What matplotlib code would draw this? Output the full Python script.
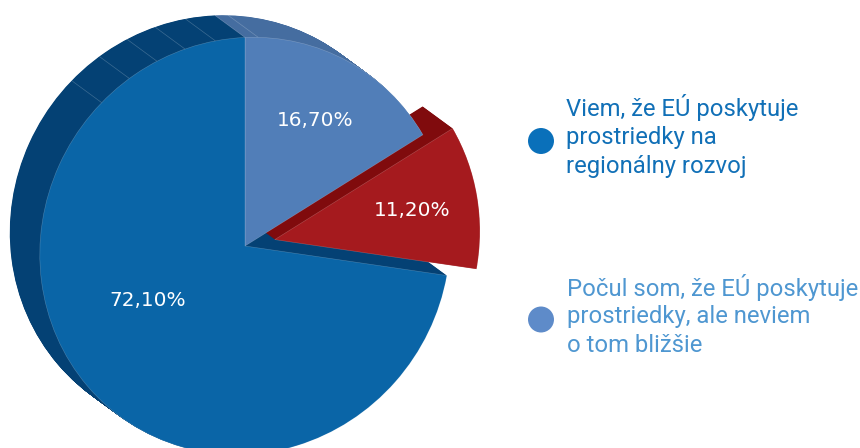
import matplotlib
matplotlib.use("Agg")
import matplotlib.pyplot as plt
import numpy as np
from matplotlib.transforms import Affine2D

# Data
categories = ["Viem, že EÚ poskytuje prostriedky na regionálny rozvoj (svetlá)", "Iné", "Hlavná časť"]
values = [16.70, 11.20, 72.10]
explode_frac = [0, 0.147, 0]
front_colors = ["#517eb8", "#a51a1e", "#0a65a7"]
side_colors = ["#456da0", "#800b0d", "#044174"]
label_pos = [(315.5, 120), (412, 210), (147.5, 300)]
side_seam_angles = [-44.3, -34.3, -25.4, -17.0, -8.3, 0.0, 3.7]
legend_lines = [
    ["Viem, že EÚ poskytuje", "prostriedky na", "regionálny rozvoj"],
    ["Počul som, že EÚ poskytuje", "prostriedky, ale neviem", "o tom bližšie"],
]
legend_dot_colors = ["#0a70ba", "#5e8bc9"]
legend_text_colors = ["#1170b7", "#4f97d1"]
legend_x = [566, 567]
legend_y = [[107, 137, 166], [287, 316, 345]]
dot_y = [141, 319.5]

W, H = 860, 448
cx, cy = 245, H - 246
R = 207.5
depth = (-30, 22)   # extrusion towards the back, px (y up)
M = np.array([[0.989, 0, 0], [0.0406, 1.005, 0], [0, 0, 1]])
N_LAYERS = 70

fig = plt.figure(figsize=(8.6, 4.48), dpi=100)
ax = fig.add_axes([0, 0, 1, 1])


def draw_pie(dx, dy, colors, z, **wp):
    # pie's explode is an absolute distance, so scale the fractions by the radius
    wedges, _ = ax.pie(values, explode=[e * R for e in explode_frac], colors=colors,
                       radius=R, startangle=90, counterclock=False, center=(0, 0),
                       frame=False, normalize=True, wedgeprops=wp)
    tr = Affine2D(M).translate(cx + dx, cy + dy) + ax.transData
    for w in wedges:
        w.set_transform(tr)
        w.set_zorder(z)
    return wedges


# Side walls: stacked copies from back to front
for k in range(N_LAYERS, 0, -1):
    t = k / N_LAYERS
    draw_pie(depth[0] * t, depth[1] * t, side_colors, 1 + (N_LAYERS - k) * 1e-3,
             linewidth=0)

# Seams on the side wall
for a in side_seam_angles:
    th = np.radians(a)
    p = M[:2, :2] @ np.array([R * np.sin(th), R * np.cos(th)])
    ax.plot([cx + p[0], cx + p[0] + depth[0]], [cy + p[1], cy + p[1] + depth[1]],
            color=(1, 1, 1, 0.22), lw=0.5, zorder=2, solid_capstyle="butt")

# Front faces
draw_pie(0, 0, front_colors, 3, linewidth=0.4, edgecolor=(1, 1, 1, 0.25))

# Value labels
for v, (x, y) in zip(values, label_pos):
    ax.text(x, H - y, f"{v:.2f}".replace(".", ",") + "%", color="white",
            fontsize=14.4, family="DejaVu Sans", ha="center", va="center", zorder=5)

# Legend
ax.scatter([541, 541], [H - y for y in dot_y], s=350, c=legend_dot_colors,
           linewidths=0, zorder=5)
for lines, ys, col, x in zip(legend_lines, legend_y, legend_text_colors, legend_x):
    for line, y in zip(lines, ys):
        ax.text(x, H - y, line, color=col, fontsize=17.2, family="Roboto",
                ha="left", va="center", zorder=5)

ax.set_xlim(0, W)
ax.set_ylim(0, H)
ax.set_aspect("auto")
ax.axis("off")
fig.savefig("out.png", dpi=100, facecolor="white")
